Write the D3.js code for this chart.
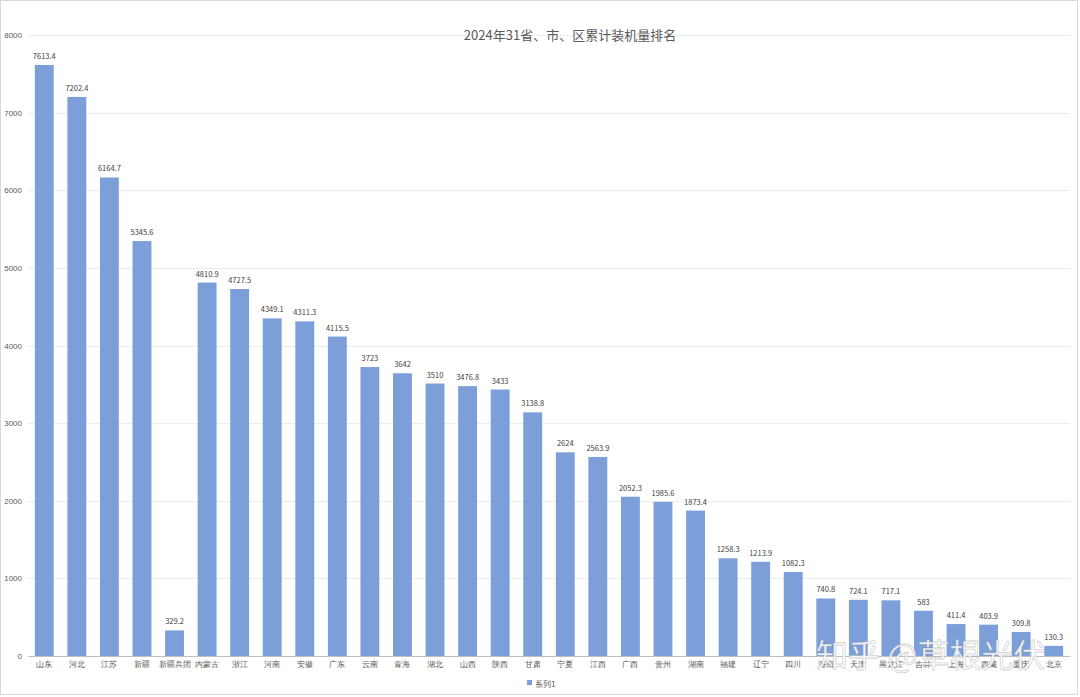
<!DOCTYPE html>
<html>
<head>
<meta charset="utf-8">
<script src="https://d3js.org/d3.v7.min.js"></script>
<style>
  body { margin: 0; background: #fff; }
  svg { font-family: "Noto Sans CJK SC", "Noto Sans", sans-serif; }
</style>
</head>
<body>
<div id="chart"></div>
<script>
// 2024 cumulative installed capacity by province
const provinces = ["山东", "河北", "江苏", "新疆", "新疆兵团", "内蒙古", "浙江", "河南", "安徽", "广东",
  "云南", "青海", "湖北", "山西", "陕西", "甘肃", "宁夏", "江西", "广西", "贵州", "湖南",
  "福建", "辽宁", "四川", "海南", "天津", "黑龙江", "吉林", "上海", "西藏", "重庆", "北京"];
const capacity = [7613.4, 7202.4, 6164.7, 5345.6, 329.2, 4810.9, 4727.5, 4349.1, 4311.3, 4115.5,
  3723, 3642, 3510, 3476.8, 3433, 3138.8, 2624, 2563.9, 2052.3, 1985.6, 1873.4,
  1258.3, 1213.9, 1082.3, 740.8, 724.1, 717.1, 583, 411.4, 403.9, 309.8, 130.3];
const yTicks = [0, 1000, 2000, 3000, 4000, 5000, 6000, 7000, 8000];
const seriesName = "系列1";
const title = "2024年31省、市、区累计装机量排名";

const data = provinces.map((p, i) => ({ name: p, value: capacity[i] }));

const width = 1080, height = 697;
const margin = { top: 35, right: 10, bottom: 41, left: 28 };

const svg = d3.select("#chart").append("svg")
  .attr("width", width)
  .attr("height", height);

// outer chart border
svg.append("rect")
  .attr("x", 0.5).attr("y", 0.5)
  .attr("width", width - 3).attr("height", height - 3)
  .attr("fill", "#fff")
  .attr("stroke", "#d9d9d9");

const x = d3.scaleBand()
  .domain(provinces)
  .range([margin.left, width - margin.right])
  .paddingInner(0.42)
  .paddingOuter(0.21);

const y = d3.scaleLinear()
  .domain([0, 8000])
  .range([height - margin.bottom, margin.top]);

// gridlines
svg.append("g")
  .selectAll("line")
  .data(yTicks.slice(1))
  .join("line")
    .attr("x1", margin.left)
    .attr("x2", width - margin.right)
    .attr("y1", d => Math.round(y(d)) + 0.5)
    .attr("y2", d => Math.round(y(d)) + 0.5)
    .attr("stroke", "#ececec");

// y axis labels
const yAxis = d3.axisLeft(y).tickValues(yTicks).tickFormat(d3.format("d")).tickSize(0).tickPadding(6);
svg.append("g")
  .attr("transform", `translate(${margin.left},0)`)
  .call(yAxis)
  .call(g => g.select(".domain").remove())
  .call(g => g.selectAll("text")
    .attr("fill", "#595959")
    .attr("font-size", 8));

// bars
svg.append("g")
  .selectAll("rect")
  .data(data)
  .join("rect")
    .attr("x", d => x(d.name))
    .attr("y", d => y(d.value))
    .attr("width", x.bandwidth())
    .attr("height", d => y(0) - y(d.value))
    .attr("fill", "#7c9fd9");

// value labels
svg.append("g")
  .selectAll("text")
  .data(data)
  .join("text")
    .attr("x", d => x(d.name) + x.bandwidth() / 2)
    .attr("y", d => y(d.value) - 6)
    .attr("text-anchor", "middle")
    .attr("font-size", 7.5)
    .attr("fill", "#404040")
    .text(d => d.value);

// x axis
const xAxis = d3.axisBottom(x).tickSize(0).tickPadding(5);
svg.append("g")
  .attr("transform", `translate(0,${y(0)})`)
  .call(xAxis)
  .call(g => g.select(".domain").attr("stroke", "#bfbfbf"))
  .call(g => g.selectAll("text")
    .attr("fill", "#595959")
    .attr("font-size", 8));

// title
svg.append("text")
  .attr("x", 570)
  .attr("y", 40)
  .attr("text-anchor", "middle")
  .attr("font-size", 13)
  .attr("fill", "#595959")
  .text(title);

// legend
const legend = svg.append("g").attr("transform", "translate(527,684)");
legend.append("rect")
  .attr("x", 0).attr("y", -4)
  .attr("width", 5).attr("height", 5)
  .attr("fill", "#7c9fd9");
legend.append("text")
  .attr("x", 8).attr("y", 1)
  .attr("dominant-baseline", "middle")
  .attr("font-size", 8)
  .attr("fill", "#595959")
  .text(seriesName);

// watermark
svg.append("text")
  .attr("x", 816)
  .attr("y", 667)
  .attr("font-size", 32)
  .attr("fill", "#fff")
  .attr("fill-opacity", 0.9)
  .attr("stroke", "#888")
  .attr("stroke-opacity", 0.4)
  .attr("stroke-width", 0.8)
  .text("知乎 @草根光伏");
</script>
</body>
</html>
